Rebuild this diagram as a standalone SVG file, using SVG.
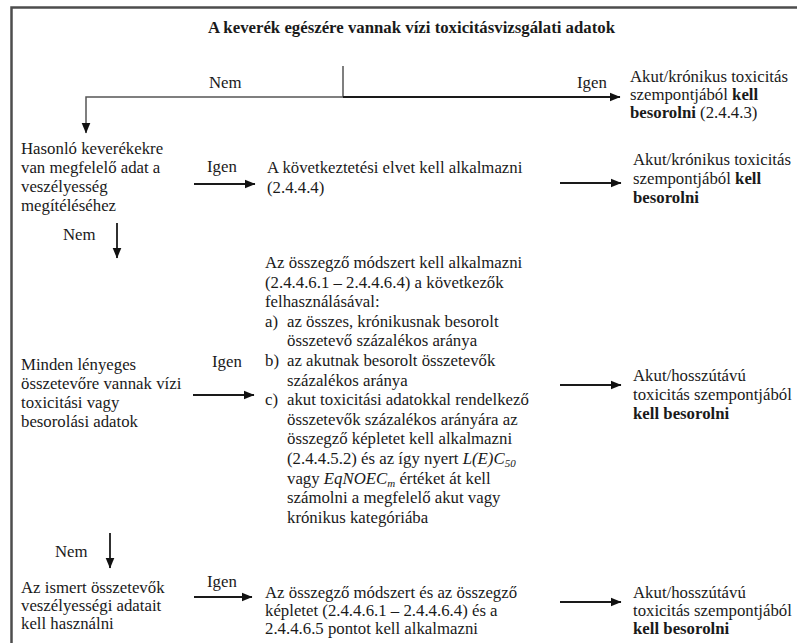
<svg xmlns="http://www.w3.org/2000/svg" width="797" height="643" viewBox="0 0 797 643">
<style>
text{font-family:'Liberation Serif','Times New Roman',Tinos,'DejaVu Serif',serif;font-size:16.8px;fill:#1a1a1a}
.b{font-weight:bold}
.i{font-style:italic}
.title{font-weight:bold;font-size:16.8px}
.c{fill:none;stroke:#1a1a1a;stroke-width:1.8}
.cg{fill:none;stroke:#555;stroke-width:1.5}
.frame{fill:none;stroke:#4d4d4d;stroke-width:2.5}
</style>
<defs>
<marker id="ah" markerWidth="11" markerHeight="10" refX="10.5" refY="5" orient="auto" markerUnits="userSpaceOnUse">
<path d="M0,0.5 L11,5 L0,9.5 z" fill="#111"/>
</marker>
</defs>
<rect width="797" height="643" fill="#fff"/>
<g id="frame">
<path class="frame" d="M11.5,643 V7.5 H797"/>
</g>
<g id="n-start">
<text class="title" x="411.5" y="33" text-anchor="middle">A keverék egészére vannak vízi toxicitásvizsgálati adatok</text>
</g>
<g id="n-result-top">
<text x="630" y="82">Akut/krónikus toxicitás</text>
<text x="630" y="100">szempontjából <tspan class="b">kell</tspan></text>
<text x="630" y="118"><tspan class="b">besorolni</tspan> (2.4.4.3)</text>
</g>
<g id="n-similar">
<text x="21" y="154">Hasonló keverékekre</text>
<text x="21" y="173">van megfelelő adat a</text>
<text x="21" y="192">veszélyesség</text>
<text x="21" y="211">megítéléséhez</text>
</g>
<g id="n-bridging">
<text x="267" y="173">A következtetési elvet kell alkalmazni</text>
<text x="267" y="193">(2.4.4.4)</text>
</g>
<g id="n-result-bridging">
<text x="633" y="165">Akut/krónikus toxicitás</text>
<text x="633" y="184">szempontjából <tspan class="b">kell</tspan></text>
<text x="633" y="203" class="b">besorolni</text>
</g>
<g id="n-all">
<text x="21" y="370">Minden lényeges</text>
<text x="21" y="389">összetevőre vannak vízi</text>
<text x="21" y="408">toxicitási vagy</text>
<text x="21" y="427">besorolási adatok</text>
</g>
<g id="n-summation">
<text x="265" y="268">Az összegző módszert kell alkalmazni</text>
<text x="265" y="287.6">(2.4.4.6.1 – 2.4.4.6.4) a következők</text>
<text x="265" y="307.2">felhasználásával:</text>
<text x="265" y="326.8">a)</text><text x="287" y="326.8">az összes, krónikusnak besorolt</text>
<text x="287" y="346.4">összetevő százalékos aránya</text>
<text x="265" y="366">b)</text><text x="287" y="366">az akutnak besorolt összetevők</text>
<text x="287" y="385.6">százalékos aránya</text>
<text x="265" y="405.2">c)</text><text x="287" y="405.2">akut toxicitási adatokkal rendelkező</text>
<text x="287" y="424.8">összetevők százalékos arányára az</text>
<text x="287" y="444.4">összegző képletet kell alkalmazni</text>
<text x="287" y="464">(2.4.4.5.2) és az így nyert <tspan class="i">L(E)C</tspan><tspan class="i" font-size="11" dy="3">50</tspan></text>
<text x="287" y="483.6">vagy <tspan class="i">EqNOEC</tspan><tspan class="i" font-size="11" dy="3">m</tspan><tspan dy="-3"> értéket át kell</tspan></text>
<text x="287" y="503.2">számolni a megfelelő akut vagy</text>
<text x="287" y="522.8">krónikus kategóriába</text>
</g>
<g id="n-result-summation">
<text x="633" y="381">Akut/hosszútávú</text>
<text x="633" y="400">toxicitás szempontjából</text>
<text x="633" y="419" class="b">kell besorolni</text>
</g>
<g id="n-known">
<text x="21" y="593">Az ismert összetevők</text>
<text x="21" y="611">veszélyességi adatait</text>
<text x="21" y="629">kell használni</text>
</g>
<g id="n-summation2">
<text x="265" y="598">Az összegző módszert és az összegző</text>
<text x="265" y="616">képletet (2.4.4.6.1 – 2.4.4.6.4) és a</text>
<text x="265" y="634">2.4.4.6.5 pontot kell alkalmazni</text>
</g>
<g id="n-result-known">
<text x="633" y="598">Akut/hosszútávú</text>
<text x="633" y="616">toxicitás szempontjából</text>
<text x="633" y="634" class="b">kell besorolni</text>
</g>
<g id="connectors">
<path class="cg" d="M343,66 V97"/>
<path class="cg" d="M343,97 H86 V133" marker-end="url(#ah)"/>
<path class="c" d="M343,97 H620" marker-end="url(#ah)"/>
<text x="209" y="88">Nem</text>
<text x="577" y="88">Igen</text>
<path class="c" d="M194,184 H255" marker-end="url(#ah)"/>
<text x="207" y="172">Igen</text>
<path class="c" d="M560,183 H621" marker-end="url(#ah)"/>
<path class="c" d="M117,223 V258" marker-end="url(#ah)"/>
<text x="63" y="240">Nem</text>
<path class="c" d="M193,395 H254" marker-end="url(#ah)"/>
<text x="212" y="367">Igen</text>
<path class="c" d="M560,385 H621" marker-end="url(#ah)"/>
<path class="c" d="M110,533 V568" marker-end="url(#ah)"/>
<text x="55" y="557">Nem</text>
<path class="c" d="M194,597 H252" marker-end="url(#ah)"/>
<text x="207" y="587">Igen</text>
<path class="c" d="M560,602 H621" marker-end="url(#ah)"/>
</g>
</svg>
